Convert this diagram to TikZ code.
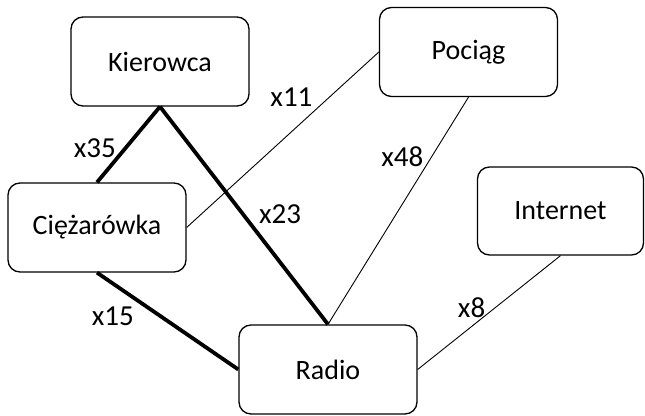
\documentclass[tikz,border=0pt]{standalone}
\usepackage{fontspec}
\setmainfont{Carlito}
\usetikzlibrary{positioning}

\begin{document}
\begin{tikzpicture}[%
        x=1pt, y=1pt,
        on grid,
        box/.style={draw, line width=1.3pt, rounded corners=12pt,
            minimum width=178pt, minimum height=89pt,
            font=\fontsize{28}{31}\selectfont},
        lbl/.style={inner sep=0pt, font=\fontsize{29}{32}\selectfont},
        heavy/.style={line width=3.8pt},
        light/.style={line width=0.9pt}
        ]
        \useasboundingbox (0,0) rectangle (645,415);

        \node[box] (kier) at (160,353.5) {Kierowca};
        \node[box] (ciez) [below left=166pt and 63pt of kier] {Ciężarówka};
        \node[box] (poc) [above right=9.5pt and 308.5pt of kier] {Pociąg};
        \node[box] (radio) [below right=308pt and 168pt of kier] {Radio};
        \node[box, minimum width=166pt, minimum height=88pt] (inet)
            [above right=158.5pt and 232.5pt of radio] {Internet};

        % heavy lines
        \path[heavy] (kier.south) edge node[lbl, pos=0.545, left=8pt] {x35} (ciez.north);
        \path[heavy] (kier.south) edge node[lbl, pos=0.495, right=14pt] {x23} (radio.north);
        \path[heavy] (ciez.south) edge node[lbl, pos=0.45, left=25pt] {x15} (radio.west);

        % light lines
        \path[light] (ciez.east) edge node[lbl, pos=0.74, left=16pt] {x11} (poc.west);
        \path[light] (poc.south) edge node[lbl, pos=0.262, left=8pt] {x48} (radio.north);
        \path[light] (inet.south) edge node[lbl, pos=0.454, left=10pt] {x8} (radio.east);

    \end{tikzpicture}
\end{document}
